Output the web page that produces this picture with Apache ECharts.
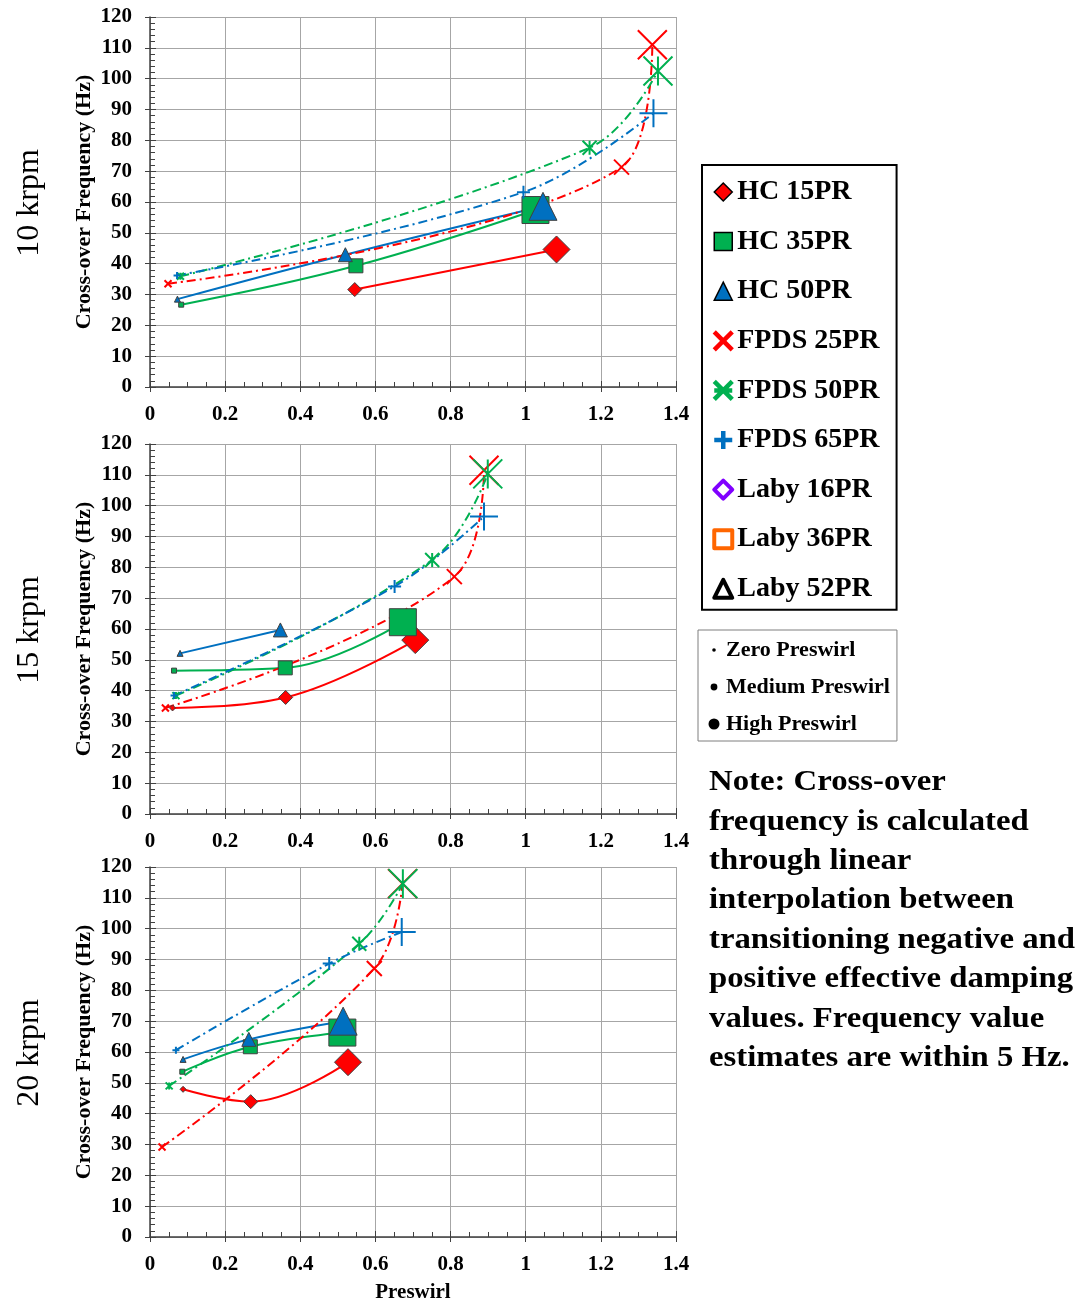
<!DOCTYPE html>
<html>
<head>
<meta charset="utf-8">
<title>Cross-over frequency vs preswirl</title>
<script src="https://cdn.jsdelivr.net/npm/echarts@6/dist/echarts.min.js"></script>
<style>
  html, body { margin: 0; padding: 0; background: #fff; }
  #chart { width: 1082px; height: 1304px; }
</style>
</head>
<body>
<div id="chart"></div>
<script>
// rows = 10 / 15 / 20 krpm, columns = zero / medium / high preswirl, [preswirl, Hz]
const speeds = ['10 krpm', '15 krpm', '20 krpm'];
const xRange = [0, 1.4];
const xStep = 0.2;
const yRange = [0, 120];
const yStep = 10;

const hc15 = [
   [null, [0.545, 31.6], [1.082, 44.6]],
   [[0.06, 34.4], [0.361, 37.8], [0.706, 56.4]],
   [[0.088, 47.9], [0.268, 43.9], [0.527, 56.7]]
];
const hc35 = [
   [[0.083, 26.7], [0.548, 39.3], [1.026, 57.4]],
   [[0.064, 46.5], [0.36, 47.4], [0.673, 62.2]],
   [[0.086, 53.6], [0.267, 61.7], [0.512, 66.3]]
];
const hc50 = [
   [[0.073, 28.5], [0.52, 42.9], [1.046, 58.6]],
   [[0.08, 52.1], [0.347, 59.7], null],
   [[0.088, 57.6], [0.263, 64.1], [0.514, 70.0]]
];
const fpds25 = [
   [[0.048, 33.5], [1.255, 71.3], [1.337, 111.0]],
   [[0.041, 34.4], [0.81, 77.0], [0.889, 111.5]],
   [[0.032, 29.2], [0.597, 87.1], [0.672, 114.6]]
];
const fpds50 = [
   [[0.081, 35.9], [1.17, 77.6], [1.352, 102.5]],
   [[0.069, 38.4], [0.751, 82.4], [0.899, 110.3]],
   [[0.051, 49.0], [0.557, 95.1], [0.673, 114.6]]
];
const fpds65 = [
   [[0.072, 36.2], [0.994, 63.2], [1.34, 88.8]],
   [[0.064, 38.4], [0.651, 73.8], [0.889, 96.5]],
   [[0.069, 60.6], [0.477, 88.7], [0.67, 98.9]]
];

const legendNames = ['HC 15PR', 'HC 35PR', 'HC 50PR', 'FPDS 25PR', 'FPDS 50PR', 'FPDS 65PR',
   'Laby 16PR', 'Laby 36PR', 'Laby 52PR'];
const preswirlNames = ['Zero Preswirl', 'Medium Preswirl', 'High Preswirl'];
const noteLines = [
   'Note: Cross-over',
   'frequency is calculated',
   'through linear',
   'interpolation between',
   'transitioning negative and',
   'positive effective damping',
   'values. Frequency value',
   'estimates are within 5 Hz.'
];

const FONT = '"Liberation Serif", "Times New Roman", serif';
const RED = '#ff0000', GREEN = '#00b050', BLUE = '#0070c0';
const X_PATH = 'path://M0 0L10 10M10 0L0 10';
const STAR_PATH = 'path://M0 0L10 10M10 0L0 10M5 0L5 10';
const PLUS_PATH = 'path://M5 0L5 10M0 5L10 5';
const DASH_DOT = [9, 4, 2, 4];

const chart = echarts.init(document.getElementById('chart'));
const gridTops = [17, 444, 867];

const makeSeries = (name, rows, symbol, color, dashed, sizes) => rows.map((pts, gi) => ({
   name,
   type: 'line',
   xAxisIndex: gi * 2,
   yAxisIndex: gi * 2,
   smooth: 0.4,
   symbol,
   data: pts.map((p, lvl) => p ? { value: p, symbolSize: sizes[lvl] } : null).filter(Boolean),
   itemStyle: dashed
      ? { color, borderColor: color, borderWidth: 2 }
      : { color, borderColor: '#404040', borderWidth: 1 },
   lineStyle: { color, width: 2, type: dashed ? DASH_DOT : 'solid' },
   emphasis: { disabled: true }
}));

const dummy = (name, color) => ({
   name, type: 'line', xAxisIndex: 0, yAxisIndex: 0, data: [],
   itemStyle: { color }, lineStyle: { color }
});

const series = [
   ...makeSeries('HC 15PR', hc15, 'diamond', RED, false, [6, 14, 27]),
   ...makeSeries('HC 35PR', hc35, 'rect', GREEN, false, [5, 14, 27]),
   ...makeSeries('HC 50PR', hc50, 'triangle', BLUE, false, [6, 14, 28]),
   ...makeSeries('FPDS 25PR', fpds25, X_PATH, RED, true, [7, 15, 29]),
   ...makeSeries('FPDS 50PR', fpds50, STAR_PATH, GREEN, true, [7, 14, 29]),
   ...makeSeries('FPDS 65PR', fpds65, PLUS_PATH, BLUE, true, [7, 13, 28]),
   dummy('Laby 16PR', '#8000ff'),
   dummy('Laby 36PR', '#ff6600'),
   dummy('Laby 52PR', '#000'),
   ...preswirlNames.map(n => dummy(n, '#000'))
];

const tickLabel = { color: '#000', fontFamily: FONT, fontWeight: 'bold', fontSize: 21 };
const axisColor = '#404040';

const xAxis = [];
const yAxis = [];
gridTops.forEach((t, gi) => {
   xAxis.push({
      type: 'value', gridIndex: gi, position: 'bottom',
      min: xRange[0], max: xRange[1], interval: xStep,
      axisLine: { onZero: false, lineStyle: { color: axisColor, width: 1.5 } },
      axisTick: { inside: true, length: 6, lineStyle: { color: axisColor } },
      minorTick: { show: true, splitNumber: 4, length: 5, lineStyle: { color: axisColor } },
      splitLine: { show: true, lineStyle: { color: '#a6a6a6', width: 1 } },
      axisLabel: { ...tickLabel, margin: 17 },
      name: gi === 2 ? 'Preswirl' : '',
      nameLocation: 'middle', nameGap: 45,
      nameTextStyle: { color: '#000', fontFamily: FONT, fontWeight: 'bold', fontSize: 21 }
   });
   xAxis.push({
      type: 'value', gridIndex: gi, position: 'bottom',
      min: xRange[0], max: xRange[1], interval: xStep,
      axisLine: { show: false },
      axisTick: { inside: false, length: 5, lineStyle: { color: axisColor } },
      axisLabel: { show: false }, splitLine: { show: false }
   });
   yAxis.push({
      type: 'value', gridIndex: gi, position: 'left',
      min: yRange[0], max: yRange[1], interval: yStep,
      axisLine: { show: true, onZero: false, lineStyle: { color: axisColor, width: 1.5 } },
      axisTick: { show: true, inside: true, length: 6, lineStyle: { color: axisColor } },
      minorTick: { show: true, splitNumber: 5, length: 5, lineStyle: { color: axisColor } },
      splitLine: { show: true, lineStyle: { color: '#a6a6a6', width: 1 } },
      axisLabel: { ...tickLabel, margin: 18 },
      name: 'Cross-over Frequency (Hz)',
      nameLocation: 'middle', nameGap: 55,
      nameTextStyle: { color: '#000', fontFamily: FONT, fontWeight: 'bold', fontSize: 22 }
   });
   yAxis.push({
      type: 'value', gridIndex: gi, position: 'left',
      min: yRange[0], max: yRange[1], interval: yStep,
      axisLine: { show: false },
      axisTick: { show: true, inside: false, length: 5, lineStyle: { color: axisColor } },
      axisLabel: { show: false }, splitLine: { show: false }
   });
});

const legendIcons = {
   'HC 15PR': { icon: 'diamond', itemStyle: { borderColor: '#000', borderWidth: 1.5 } },
   'HC 35PR': { icon: 'rect', itemStyle: { borderColor: '#000', borderWidth: 1.5 } },
   'HC 50PR': { icon: 'triangle', itemStyle: { borderColor: '#000', borderWidth: 1.5 } },
   'FPDS 25PR': { icon: X_PATH, itemStyle: { borderColor: RED, borderWidth: 4.5 } },
   'FPDS 50PR': { icon: 'path://M0 0L10 10M10 0L0 10M0 5L10 5', itemStyle: { borderColor: GREEN, borderWidth: 4.5 } },
   'FPDS 65PR': { icon: PLUS_PATH, itemStyle: { borderColor: BLUE, borderWidth: 4.5 } },
   'Laby 16PR': { icon: 'diamond', itemStyle: { color: '#fff', borderColor: '#8000ff', borderWidth: 4, borderJoin: 'round' } },
   'Laby 36PR': { icon: 'rect', itemStyle: { color: '#fff', borderColor: '#ff6600', borderWidth: 4, borderJoin: 'round' } },
   'Laby 52PR': { icon: 'triangle', itemStyle: { color: '#fff', borderColor: '#000', borderWidth: 4, borderJoin: 'round' } }
};

// dots of three sizes inside the same 14x14 box
const dotIcon = r => `path://M0 0M14 14M${7 - r} 7A${r} ${r} 0 1 0 ${7 + r} 7A${r} ${r} 0 1 0 ${7 - r} 7Z`;
const dotRadius = [1.8, 3.4, 5.5];

const options = {
   animation: false,
   backgroundColor: '#fff',
   grid: gridTops.map(t => ({ left: 150, top: t, width: 526, height: 370 })),
   xAxis,
   yAxis,
   legend: [
      {
         orient: 'vertical', left: 702, top: 165,
         padding: [13, 17, 7, 10],
         itemWidth: 18, itemHeight: 18, itemGap: 21.6, itemTextGap: 6,
         borderColor: '#000', borderWidth: 2,
         textStyle: { color: '#000', fontFamily: FONT, fontWeight: 'bold', fontSize: 28, lineHeight: 27 },
         data: legendNames.map(n => ({ name: n, ...legendIcons[n] }))
      },
      {
         orient: 'vertical', left: 698, top: 630,
         padding: [9, 7, 6, 9],
         itemWidth: 14, itemHeight: 14, itemGap: 15, itemTextGap: 6,
         borderColor: '#7f7f7f', borderWidth: 1,
         textStyle: { color: '#000', fontFamily: FONT, fontWeight: 'bold', fontSize: 22, lineHeight: 21 },
         data: preswirlNames.map((n, i) => ({ name: n, icon: dotIcon(dotRadius[i]), itemStyle: { color: '#000', borderWidth: 0 } }))
      }
   ],
   graphic: [
      ...speeds.map((s, gi) => ({
         type: 'text', x: 30, y: gridTops[gi] + 186, rotation: Math.PI / 2,
         style: { text: s, font: '32px ' + FONT, fill: '#000', align: 'center', verticalAlign: 'middle' }
      })),
      {
         type: 'text', x: 709, y: 763, scaleX: 1.13,
         style: { text: noteLines.join('\n'), font: 'bold 29px ' + FONT, lineHeight: 39.4, fill: '#000' }
      }
   ],
   series
};

chart.setOption(options);
</script>
</body>
</html>
